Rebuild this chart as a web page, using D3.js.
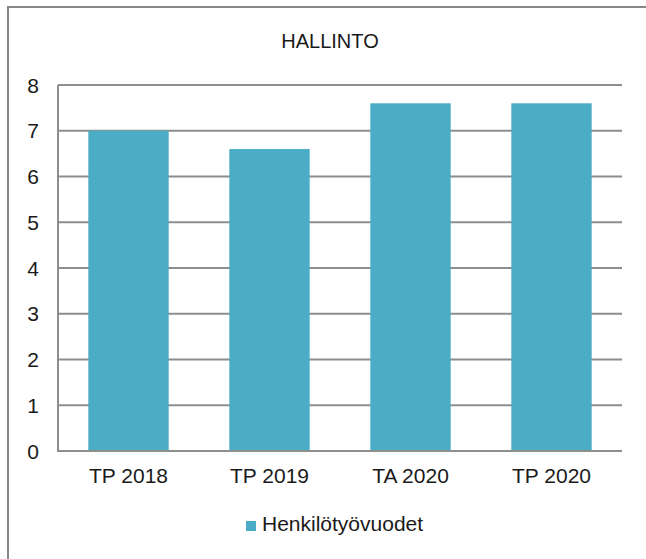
<!DOCTYPE html>
<html>
<head>
<meta charset="utf-8">
<script src="https://cdn.jsdelivr.net/npm/d3@7"></script>
<style>
  html, body { margin: 0; padding: 0; background: #fff; }
  svg { display: block; font-family: "Liberation Sans", Arial, sans-serif; }
</style>
</head>
<body>
<script>
// chart data
var categories = ["TP 2018", "TP 2019", "TA 2020", "TP 2020"];
var henkilotyovuodet = [7, 6.6, 7.6, 7.6];
var yTicks = [0, 1, 2, 3, 4, 5, 6, 7, 8];
var seriesName = "Henkilötyövuodet";
var title = "HALLINTO";

var w = 646, h = 559;
// plot area edges (note: "top" is taken by window.top)
var plotLeft = 58, plotRight = 622, plotTop = 85, plotBottom = 451;
var barColor = "#4BACC6", gridColor = "#8e8e8e", textColor = "#1a1a1a";

var svg = d3.select("body").append("svg")
    .attr("width", w)
    .attr("height", h);

// outer chart frame (only top and left edges are visible)
svg.append("path")
    .attr("d", "M8," + h + "L8,7L" + w + ",7")
    .attr("fill", "none")
    .attr("stroke", "#878787")
    .attr("stroke-width", 2);

var x = d3.scaleBand()
    .domain(categories)
    .range([plotLeft, plotRight])
    .paddingInner(0.43)
    .paddingOuter(0.215);

var y = d3.scaleLinear()
    .domain([0, 8])
    .range([plotBottom, plotTop]);

// gridlines
svg.append("g")
    .selectAll("line")
    .data(yTicks)
  .enter().append("line")
    .attr("x1", plotLeft)
    .attr("x2", plotRight)
    .attr("y1", function(d) { return y(d); })
    .attr("y2", function(d) { return y(d); })
    .attr("stroke", gridColor)
    .attr("stroke-width", 2);

// bars
svg.append("g")
    .selectAll("rect")
    .data(henkilotyovuodet)
  .enter().append("rect")
    .attr("x", function(d, i) { return x(categories[i]); })
    .attr("y", function(d) { return y(d); })
    .attr("width", x.bandwidth())
    .attr("height", function(d) { return y(0) - y(d); })
    .attr("fill", barColor);

// axis lines drawn over the bars
svg.append("line")
    .attr("x1", plotLeft).attr("x2", plotLeft)
    .attr("y1", y(8)).attr("y2", y(0) + 1)
    .attr("stroke", gridColor)
    .attr("stroke-width", 2);
svg.append("line")
    .attr("x1", plotLeft).attr("x2", plotRight)
    .attr("y1", y(0)).attr("y2", y(0))
    .attr("stroke", gridColor)
    .attr("stroke-width", 2);

// y tick labels
svg.append("g")
    .selectAll("text")
    .data(yTicks)
  .enter().append("text")
    .attr("x", plotLeft - 19)
    .attr("y", function(d) { return y(d); })
    .attr("dy", "0.36em")
    .attr("text-anchor", "end")
    .attr("font-size", 21)
    .attr("fill", textColor)
    .text(function(d) { return d; });

// x category labels
svg.append("g")
    .selectAll("text")
    .data(categories)
  .enter().append("text")
    .attr("x", function(d) { return x(d) + x.bandwidth() / 2; })
    .attr("y", 483)
    .attr("text-anchor", "middle")
    .attr("font-size", 21)
    .attr("fill", textColor)
    .text(function(d) { return d; });

// title
svg.append("text")
    .attr("x", 330)
    .attr("y", 48)
    .attr("text-anchor", "middle")
    .attr("font-size", 20)
    .attr("fill", textColor)
    .text(title);

// legend
var legend = svg.append("g")
    .attr("transform", "translate(246,521)");
legend.append("rect")
    .attr("width", 10)
    .attr("height", 10)
    .attr("fill", barColor);
legend.append("text")
    .attr("x", 16)
    .attr("y", 10)
    .attr("font-size", 21)
    .attr("fill", textColor)
    .text(seriesName);
</script>
</body>
</html>
